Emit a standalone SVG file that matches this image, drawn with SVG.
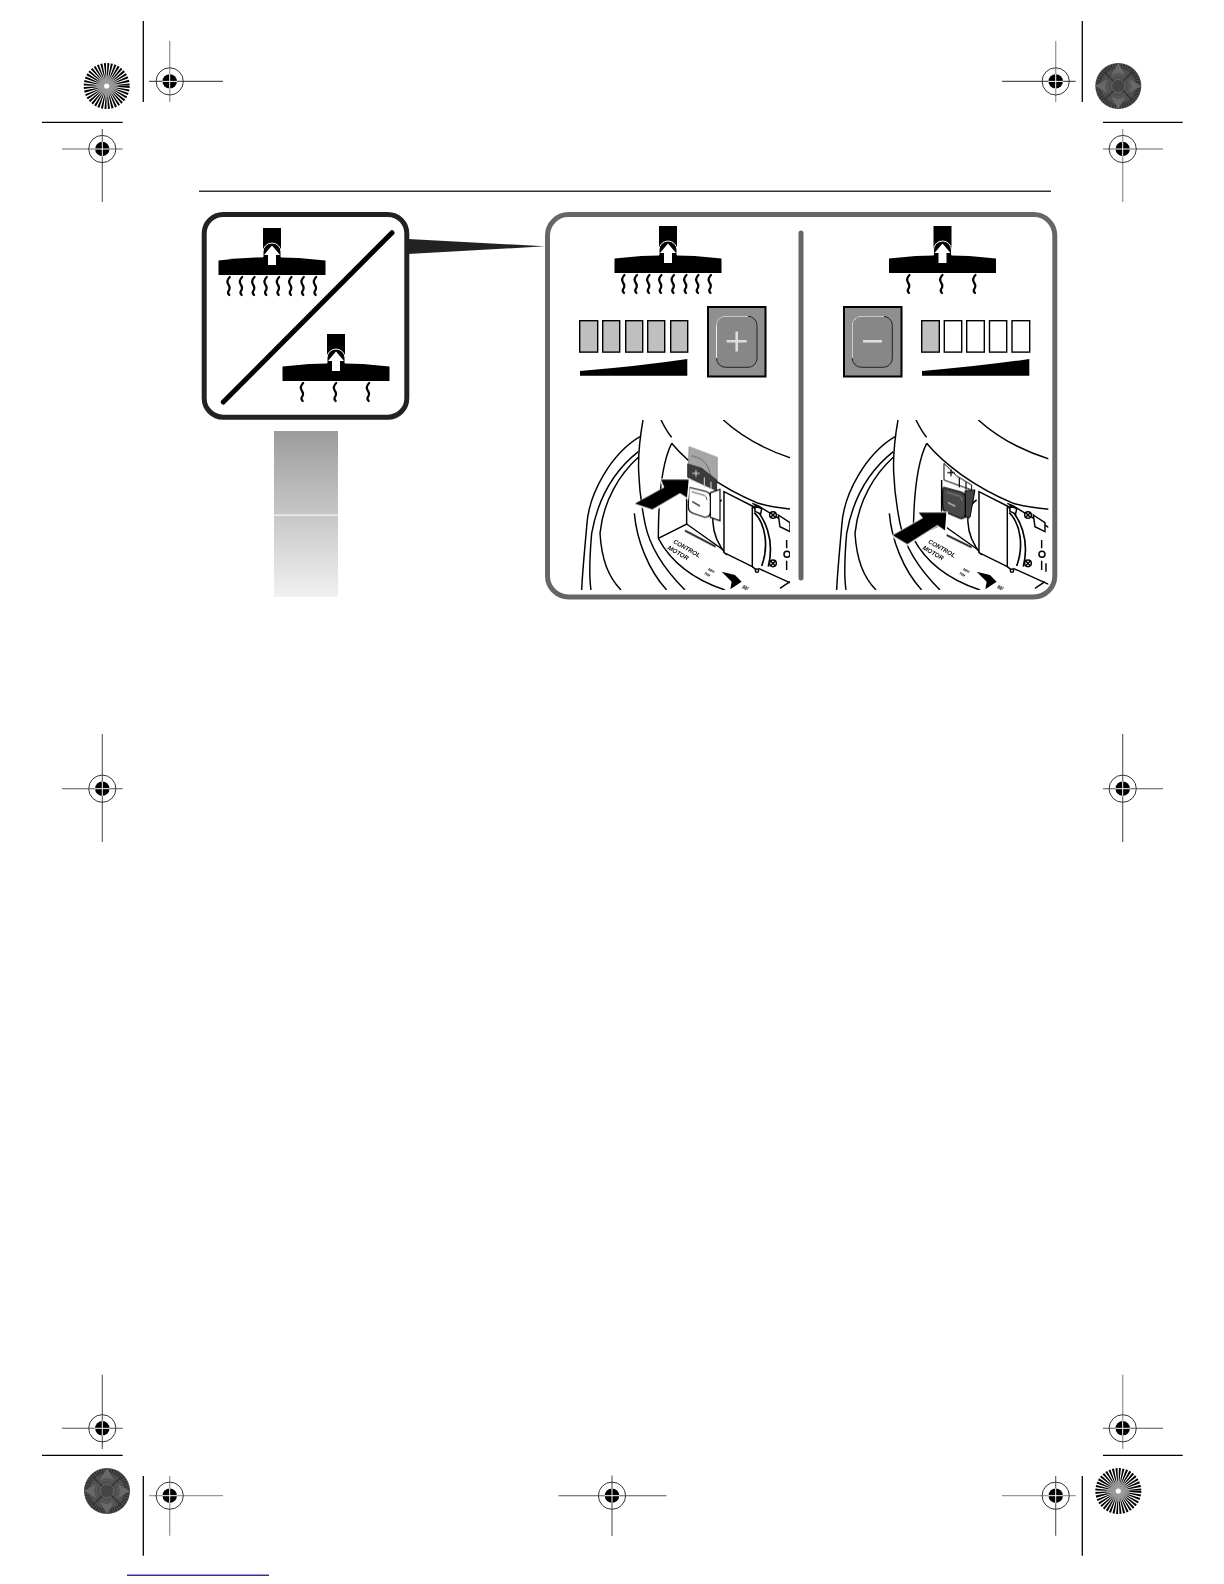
<svg xmlns="http://www.w3.org/2000/svg" width="1224" height="1584" viewBox="0 0 1224 1584">
<style>
.k{stroke:#000;stroke-width:1.3;fill:none}
.d{stroke:#555;stroke-width:1.1;fill:none}
.l{stroke:#999;stroke-width:1.3;fill:none}
.sq{fill:none;stroke:#000;stroke-width:2.2;stroke-linecap:round}
.art{fill:none;stroke:#000;stroke-width:4.4}
.t{font-family:"Liberation Sans",Arial,sans-serif;font-weight:bold;font-style:italic;fill:#000}
.bar{stroke:#000;stroke-width:1.4}
</style>
<defs>
<linearGradient id="fade" x1="0" y1="0" x2="0" y2="1"><stop offset="0" stop-color="#9c9c9c"/><stop offset="1" stop-color="#f1f1f1"/></linearGradient>
<radialGradient id="hub"><stop offset="0" stop-color="#aaa"/><stop offset=".6" stop-color="#999" stop-opacity=".85"/><stop offset="1" stop-color="#999" stop-opacity="0"/></radialGradient>
<g id="target"><circle r="13.6" fill="none" stroke="#333" stroke-width="1"/><circle r="7.2" fill="#000"/><path d="M-7.5 0H7.5M0-7.5V7.5" stroke="#fff" stroke-width="1"/></g>
<g id="sunL"><circle r="23" fill="#fff"/><circle r="11.5" fill="none" stroke="#000" stroke-width="23" stroke-dasharray="1.05 .756"/><circle r="12" fill="url(#hub)"/><path d="M0-13L3-3L13 0L3 3L0 13L-3 3L-13 0L-3-3Z" fill="#999" opacity=".8"/><circle r="2.6" fill="#fff"/></g>
<g id="sunD"><circle r="23" fill="#505050"/><circle r="20" fill="none" stroke="#2e2e2e" stroke-width="5" stroke-dasharray="1.2 1.2"/><path d="M0-23L7-11L0-13L-7-11ZM0 23L7 11L0 13L-7 11ZM-23 0L-11-7L-13 0L-11 7ZM23 0L11-7L13 0L11 7Z" fill="#686868"/><path d="M-14-14L14 14M-14 14L14-14" stroke="#333" stroke-width="1.5"/><circle r="6.5" fill="#444" stroke="#888" stroke-width=".7" stroke-dasharray="1.5 1"/><circle r="11" fill="none" stroke="#777" stroke-width=".7" stroke-dasharray="1.5 1.5"/></g>
<g id="head">
<rect x="-9" y="0" width="18" height="30" fill="#000"/>
<path d="M-53.5 32.5Q0 26 53.5 32.5V47H-53.5Z" fill="#000"/>
<path d="M-9 29V24A9 9 0 0 1 9 24V29" fill="none" stroke="#fff" stroke-width="1"/>
<path d="M0 17.5L8 27H4V37H-4V27H-8Z" fill="#fff"/>
</g>
<path id="w" class="sq" d="M1.5 0C-1.5 3-1.5 5 0 7.5C1.8 10 1.8 12 .2 14C-.8 15.5 0 17 1 18"/>
<g id="art">
<path d="M294 60C286 105 279 160 281 215C283 270 290 320 300 370C312 430 350 500 420 570"/>
<path d="M348 60C358 80 368 98 380 112"/>
<path d="M380 130C345 200 340 320 340 415"/>
<path d="M380 130C430 190 520 260 640 310C680 322 710 325 750 328"/>
<path d="M535 60C590 110 660 150 750 178"/>
<path d="M285 110C200 160 130 280 125 380C120 440 112 520 110 570"/>
<path d="M280 155C210 210 160 290 140 400C133 480 132 530 138 570"/>
<path d="M280 172C225 222 175 300 165 400C170 480 190 530 228 570"/>
<path d="M268 340C275 420 310 510 365 570"/>
<path d="M340 415L425 372L535 450"/>
<path d="M340 415C380 490 450 540 540 570"/>
<path d="M425 372V240"/>
<path d="M530 300C495 320 490 400 545 465"/>
<path d="M537 275V458L622 500V318Z" fill="#fff"/>
<path d="M622 318C660 350 690 420 670 500" stroke-width="5"/>
<path d="M628 338C662 372 672 440 650 498" stroke-width="5"/>
<path d="M622 310L640 318L750 385M640 505L750 555M622 500L640 515"/>
<path d="M630 318L650 326L647 342L630 334Z" fill="#fff"/>
<path d="M700 345L735 368V395L705 380Z" fill="#fff"/>
<circle cx="684" cy="345" r="10" fill="#fff"/><path d="M677 338L691 352M691 338L677 352"/>
<circle cx="684" cy="490" r="10" fill="#fff"/><path d="M677 483L691 497M691 483L677 497"/>
<circle cx="636" cy="512" r="5" fill="#fff"/>
<path d="M725 420V445M725 482V510M738 490V515"/>
<circle cx="726" cy="463" r="9"/>
<path d="M705 565L735 545"/>
<path d="M530 515L570 525L590 545L556 568L560 545Z" fill="#000" stroke="none"/>
</g>
<g id="labels" opacity=".99">
<text class="t" font-size="18.5" transform="translate(383 428) rotate(30)">CONTROL</text>
<text class="t" font-size="18.5" transform="translate(367 447) rotate(30)">MOTOR</text>
<text class="t" font-size="11" transform="translate(488 510) rotate(30)">MIN</text>
<text class="t" font-size="11" transform="translate(476 522) rotate(30)">TIM</text>
<text class="t" font-size="15" transform="translate(590 565) rotate(30)">MI</text>
</g>
<clipPath id="c1"><rect x="100" y="60" width="635" height="510"/></clipPath>
<clipPath id="c2"><rect x="100" y="60" width="645" height="510"/></clipPath>
</defs>

<g id="page-rule"><rect x="199" y="190.6" width="852" height="1.2" fill="#000"/></g>
<g id="footer-line"><rect x="127" y="1574.6" width="142" height="1.2" fill="#000080"/></g>

<g id="marks">
<use href="#sunL" x="106.7" y="86"/>
<use href="#sunD" x="1118.3" y="86"/>
<use href="#sunD" x="107" y="1491"/>
<use href="#sunL" x="1118.3" y="1491"/>
<path class="k" d="M143.3 21V102M42 122.4H122.7M1082.3 21V102M1103 122.4H1182.7M42 1455.3H122.7M143.3 1476V1555.7M1103 1455.3H1182.7M1082.3 1476V1555.7"/>
<path class="l" d="M169.7 41V102M1055.7 41V102M62 149H122.7M1103 149H1163M1122.7 129V202M149 1495.7H223M169.7 1476V1535.7M1122.7 1374.7V1449M1002 1495.7H1075.7"/>
<path class="d" d="M149 81.4H223M1002 81.4H1075.7M102.3 129V202M62 788.7H122.7M102.3 734V842M1103 788.7H1163M1122.7 734V842M62 1428.3H122.7M102.3 1374.7V1449M1103 1428.3H1163M1055.7 1476V1535.7M558.5 1495.7H666.5M612 1475.6V1536"/>
<use href="#target" x="169.7" y="81.4"/>
<use href="#target" x="102.3" y="149"/>
<use href="#target" x="1055.7" y="81.4"/>
<use href="#target" x="1122.7" y="149"/>
<use href="#target" x="102.3" y="788.7"/>
<use href="#target" x="1122.7" y="788.7"/>
<use href="#target" x="102.3" y="1428.3"/>
<use href="#target" x="1122.7" y="1428.3"/>
<use href="#target" x="169.7" y="1495.7"/>
<use href="#target" x="1055.7" y="1495.7"/>
<use href="#target" x="612" y="1495.7"/>
</g>

<g id="connectors"><path d="M408 239L545 246.3L408 254Z" fill="#222"/></g>

<g id="summary-box">
<rect x="204.2" y="214.5" width="202.6" height="202.7" rx="19" fill="#fff" stroke="#222" stroke-width="5"/>
<path d="M223.3 402L392 232.7" stroke="#000" stroke-width="5" stroke-linecap="round"/>
<g transform="translate(272 228)"><use href="#head"/>
<use href="#w" x="-43.7" y="49"/><use href="#w" x="-31.3" y="49"/><use href="#w" x="-19" y="49"/><use href="#w" x="-6.7" y="49"/><use href="#w" x="5.7" y="49"/><use href="#w" x="18" y="49"/><use href="#w" x="30.3" y="49"/><use href="#w" x="42.7" y="49"/></g>
<g transform="translate(336 334)"><use href="#head"/>
<use href="#w" x="-34.3" y="49"/><use href="#w" x="-1.3" y="49"/><use href="#w" x="31.7" y="49"/></g>
</g>

<g id="gradient-tab">
<rect x="274" y="431" width="64" height="166" fill="url(#fade)"/>
<rect x="274" y="514.6" width="64" height="1" fill="#fff"/>
</g>

<g id="detail-panel">
<rect x="547.5" y="214.5" width="507.3" height="382.5" rx="21" fill="#fff" stroke="#666" stroke-width="5"/>
<path d="M801 233V578" stroke="#666" stroke-width="5" stroke-linecap="round"/>
</g>

<g id="increase">
<g transform="translate(668 226)"><use href="#head"/>
<use href="#w" x="-45" y="49"/><use href="#w" x="-32.5" y="49"/><use href="#w" x="-20" y="49"/><use href="#w" x="-8" y="49"/><use href="#w" x="4.5" y="49"/><use href="#w" x="17" y="49"/><use href="#w" x="29" y="49"/><use href="#w" x="41.5" y="49"/></g>
<g class="bar" fill="#bfbfbf">
<rect x="579.7" y="320.7" width="18" height="31.4"/><rect x="602.7" y="320.7" width="17" height="31.4"/><rect x="625.7" y="320.7" width="17" height="31.4"/><rect x="647.7" y="320.7" width="17" height="31.4"/><rect x="670.7" y="320.7" width="17" height="31.4"/>
</g>
<path d="M580 371Q640 366 687.3 359V375.7H580Z" fill="#000"/>
<rect x="708" y="307" width="57.5" height="69.5" fill="#8f8f8f" stroke="#000" stroke-width="2"/>
<rect x="716.5" y="316.3" width="40.5" height="51" rx="9" fill="#878787" stroke="#222" stroke-width="1"/>
<path d="M716.5 358V325.3A9 9 0 0 1 725.5 316.3H748" fill="none" stroke="#eee" stroke-width="1"/>
<path d="M736.7 331.5V351.5M726.7 341.3H746.7" stroke="#ddd" stroke-width="2.6"/>
<g transform="translate(545 400) scale(.3333)">
<g clip-path="url(#c1)"><use href="#art" class="art"/><use href="#labels"/>
<path d="M420 392L512 440" stroke="#000" stroke-width="5"/>
<path d="M432 140L517 172V245L430 200Z" fill="#a6a6a6" stroke="#888" stroke-width="2"/>
<path d="M440 168C465 172 490 185 497 230" fill="none" stroke="#666" stroke-width="3"/>
<path d="M428 192L470 205L495 225L515 240V272L428 232Z" fill="#3c3c3c" stroke="#000" stroke-width="2"/>
<path d="M442 220H464M453 210V230M478 232V262M498 245V268" stroke="#ddd" stroke-width="3"/>
<path d="M496 278L525 268V362L496 352Z" fill="#fff" stroke="#000" stroke-width="3.5"/>
<path d="M432 262L482 274Q496 278 496 292V335Q496 352 480 352L445 340Q430 336 430 320Z" fill="#fff" stroke="#000" stroke-width="3.5"/>
<path d="M440 275L478 286Q486 290 486 300" fill="none" stroke="#000" stroke-width="2"/>
<path d="M442 305L465 318" stroke="#000" stroke-width="3.5"/>
<path d="M345 236H436L430 300L405 284L325 336L264 314L352 264Z" fill="#fff"/>
<path d="M348 239H431L426 293L405 279L322 328L270 311L358 262Z" fill="#000"/>
</g></g>
</g>

<g id="decrease">
<g transform="translate(942.5 226)"><use href="#head"/>
<use href="#w" x="-34.5" y="49"/><use href="#w" x="-1.5" y="49"/><use href="#w" x="31.5" y="49"/></g>
<g class="bar" fill="#fff">
<rect x="921.7" y="320.7" width="17.6" height="31.4" fill="#bfbfbf"/><rect x="944.3" y="320.7" width="17.4" height="31.4"/><rect x="966.7" y="320.7" width="17.6" height="31.4"/><rect x="989.5" y="320.7" width="17.2" height="31.4"/><rect x="1012" y="320.7" width="17.7" height="31.4"/>
</g>
<path d="M922 371Q982 366 1029.3 359V375.7H922Z" fill="#000"/>
<rect x="844" y="307" width="57.5" height="69.5" fill="#8f8f8f" stroke="#000" stroke-width="2"/>
<rect x="852.3" y="316.3" width="40" height="51" rx="9" fill="#878787" stroke="#222" stroke-width="1"/>
<path d="M852.3 358V325.3A9 9 0 0 1 861.3 316.3H884" fill="none" stroke="#eee" stroke-width="1"/>
<path d="M863 341.3H882" stroke="#ddd" stroke-width="2.6"/>
<g transform="translate(800 400) scale(.3333)">
<g clip-path="url(#c2)"><use href="#art" class="art"/><use href="#labels"/>
<path d="M440 405L515 442" stroke="#000" stroke-width="5"/>
<path d="M432 190V240L515 270V255L470 228L432 190" fill="#fff" stroke="#000" stroke-width="3"/>
<path d="M442 218H464M453 207V229M478 232V262M498 245V268" stroke="#000" stroke-width="3.5"/>
<path d="M495 272L525 270L510 352H495Z" fill="#444" stroke="#000" stroke-width="3"/>
<path d="M432 262L482 276Q496 280 496 294V340Q496 358 480 355L445 340Q428 335 428 320V275Q428 262 432 262Z" fill="#4a4a4a" stroke="#000" stroke-width="3.5"/>
<path d="M440 277L478 288Q486 292 486 302" fill="none" stroke="#aaa" stroke-width="2"/>
<path d="M444 308L466 319" stroke="#ddd" stroke-width="3.5"/>
<path d="M352 335H444L440 398L412 380L322 438L270 408L362 356Z" fill="#fff"/>
<path d="M356 338H439L435 391L412 375L322 432L278 406L369 354Z" fill="#000"/>
</g></g>
</g>
</svg>
